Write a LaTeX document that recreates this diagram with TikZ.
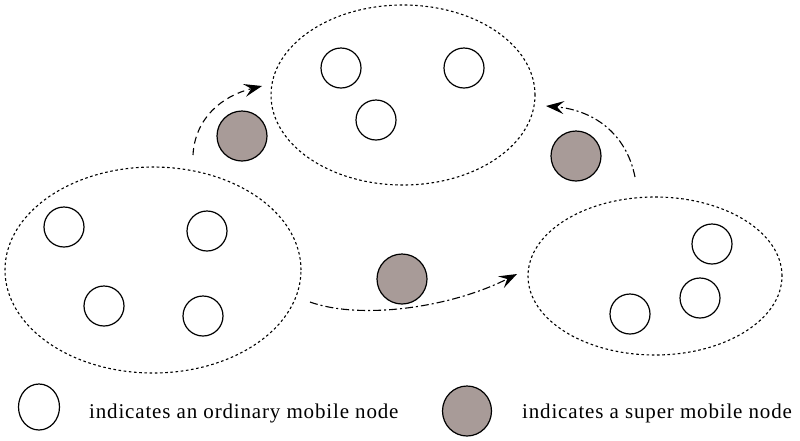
\documentclass[tikz,border=0pt]{standalone}
\usepackage{fontspec}
\setmainfont{Liberation Serif}
\newfontfamily\legendfont[LetterSpace=4]{Liberation Serif}
\usetikzlibrary{shapes.geometric,arrows.meta}
\definecolor{supergray}{RGB}{168,155,152}
\tikzset{
  cluster/.style={ellipse, draw, line width=1.1pt, dash pattern=on 2.6pt off 2.6pt, inner sep=0pt},
  ordnode/.style={circle, draw, line width=1.2pt, fill=white, minimum size=40pt, inner sep=0pt},
  supernode/.style={circle, draw, line width=1.2pt, fill=supergray, minimum size=50pt, inner sep=0pt},
  tipstyle/.style={-{Stealth[length=18pt,width=13pt,inset=7pt]}},
  moveA/.style={line width=1.1pt, dash pattern=on 7pt off 4.5pt, tipstyle},
  moveB/.style={line width=1.1pt, dash pattern=on 8pt off 3pt on 2pt off 3pt, tipstyle},
  legendtext/.style={anchor=base west, inner sep=0pt, font=\legendfont\fontsize{21}{25}\selectfont}
}
\begin{document}
\begin{tikzpicture}[x=1pt,y=-1pt]
\useasboundingbox (0,0) rectangle (800,440);

% clusters
\node[cluster, minimum width=296pt, minimum height=206pt] (CL) at (153,270) {};
\node[cluster, minimum width=264pt, minimum height=180pt] (CT) at (403,95) {};
\node[cluster, minimum width=254pt, minimum height=158pt] (CR) at (655,276) {};

% ordinary nodes, left cluster
\node[ordnode] (l1) at (64,227) {};
\node[ordnode] (l2) at (207,231) {};
\node[ordnode] (l3) at (104,306) {};
\node[ordnode] (l4) at (203,316) {};

% ordinary nodes, top cluster
\node[ordnode] (t1) at (341,68) {};
\node[ordnode] (t2) at (464,68) {};
\node[ordnode] (t3) at (376,120) {};

% ordinary nodes, right cluster
\node[ordnode] (r1) at (712,244) {};
\node[ordnode] (r2) at (700,298) {};
\node[ordnode] (r3) at (630,314) {};

% super nodes on the move
\node[supernode] (s1) at (242,136) {};
\node[supernode] (s2) at (576,156) {};
\node[supernode] (s3) at (402,279) {};

% movement paths
\coordinate (a1s) at (193,155);
\coordinate (a1e) at (262,86);
\coordinate (a2s) at (635,177);
\coordinate (a2e) at (546,106);
\coordinate (a3s) at (310,302);
\coordinate (a3e) at (517,274);
\draw[moveA] (a1s) .. controls (195,118) and (222,96) .. (a1e);
\draw[moveB] (a2s) .. controls (626,132) and (592,110) .. (a2e);
\draw[moveB] (a3s) .. controls (360,320) and (450,308) .. (a3e);

% legend
\node[ordnode, ellipse, minimum width=41pt, minimum height=46pt] (lg1) at (39,407) {};
\node[legendtext] (lt1) at (89,418) {indicates an ordinary mobile node};
\node[supernode, ellipse, minimum width=49pt, minimum height=50pt] (lg2) at (467,411) {};
\node[legendtext] (lt2) at (522,418) {indicates a super mobile node};
\end{tikzpicture}
\end{document}
